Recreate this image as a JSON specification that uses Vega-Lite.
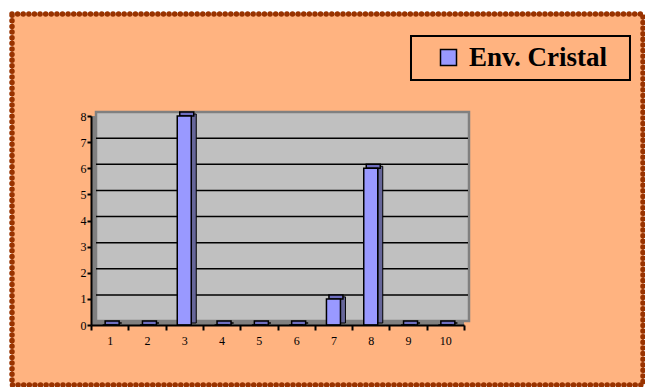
{
  "$schema": "https://vega.github.io/schema/vega-lite/v6.json",
  "width": 373,
  "height": 209,
  "autosize": {"type": "none"},
  "padding": {"left": 91, "top": 116, "right": 181, "bottom": 62},
  "background": "white",
  "config": {"view": {"stroke": null}},
  "layer": [
    {
      "encoding": {
        "x": {"type": "quantitative", "scale": {"domain": [0.5, 10.5], "nice": false, "zero": false}, "axis": null},
        "y": {"type": "quantitative", "scale": {"domain": [0, 8], "nice": false, "zero": false}, "axis": null}
      },
      "layer": [
        {
          "data": {"values": [{"x1": -1.618, "x2": 15.299, "y1": -2.297, "y2": 11.904}]},
          "mark": {"type": "rect", "fill": "#FFB380", "stroke": "#993300", "strokeWidth": 5.5, "strokeDash": [0.01, 5.6], "strokeCap": "round"},
          "encoding": {"x": {"field": "x1"}, "x2": {"field": "x2"}, "y": {"field": "y1"}, "y2": {"field": "y2"}}
        },
        {
          "data": {"values": [{"x1": 0.5, "x2": 10.5, "y1": 0, "y2": 8}]},
          "mark": {"type": "rect", "fill": "#808080"},
          "encoding": {"x": {"field": "x1"}, "x2": {"field": "x2"}, "y": {"field": "y1"}, "y2": {"field": "y2"}}
        },
        {
          "data": {"values": [{"x1": 0.5, "x2": 10.5, "y1": 0, "y2": 8}]},
          "mark": {"type": "rect", "fill": "#C0C0C0", "stroke": "#808080", "strokeWidth": 2.5, "xOffset": 5, "x2Offset": 5, "yOffset": -4, "y2Offset": -4},
          "encoding": {"x": {"field": "x1"}, "x2": {"field": "x2"}, "y": {"field": "y1"}, "y2": {"field": "y2"}}
        },
        {
          "data": {"values": [{"g": 1}, {"g": 2}, {"g": 3}, {"g": 4}, {"g": 5}, {"g": 6}, {"g": 7}]},
          "mark": {"type": "rule", "stroke": "black", "strokeWidth": 1.5, "xOffset": 5, "x2Offset": 4, "yOffset": -4, "y2Offset": -4},
          "encoding": {"x": {"datum": 0.5}, "x2": {"datum": 10.5}, "y": {"field": "g"}}
        },
        {
          "data": {"values": [{"x1": 9.079, "x2": 14.95, "y1": 9.378, "y2": 11.062}]},
          "mark": {"type": "rect", "fill": null, "stroke": "black", "strokeWidth": 2},
          "encoding": {"x": {"field": "x1"}, "x2": {"field": "x2"}, "y": {"field": "y1"}, "y2": {"field": "y2"}}
        }
      ]
    },
    {
      "data": {"values": [
        {"c": "1", "v": 0, "serie": "Env. Cristal"},
        {"c": "2", "v": 0, "serie": "Env. Cristal"},
        {"c": "3", "v": 8, "serie": "Env. Cristal"},
        {"c": "4", "v": 0, "serie": "Env. Cristal"},
        {"c": "5", "v": 0, "serie": "Env. Cristal"},
        {"c": "6", "v": 0, "serie": "Env. Cristal"},
        {"c": "7", "v": 1, "serie": "Env. Cristal"},
        {"c": "8", "v": 6, "serie": "Env. Cristal"},
        {"c": "9", "v": 0, "serie": "Env. Cristal"},
        {"c": "10", "v": 0, "serie": "Env. Cristal"}
      ]},
      "encoding": {
        "x": {
          "field": "c", "type": "ordinal", "sort": null,
          "scale": {"paddingInner": 0, "paddingOuter": 0},
          "axis": {
            "title": null, "labelAngle": 0, "tickBand": "extent", "tickSize": 5, "tickWidth": 2,
            "tickColor": "black", "domainColor": "black", "domainWidth": 2, "labelPadding": 5,
            "labelFont": "Liberation Serif", "labelFontSize": 12, "labelColor": "black", "zindex": 1, "grid": false
          }
        },
        "y": {
          "field": "v", "type": "quantitative",
          "scale": {"domain": [0, 8], "nice": false},
          "axis": {
            "title": null, "values": [0, 1, 2, 3, 4, 5, 6, 7, 8], "tickSize": 4, "tickWidth": 2,
            "tickColor": "black", "domainColor": "black", "domainWidth": 2, "labelPadding": 1,
            "labelFont": "Liberation Serif", "labelFontSize": 12, "labelColor": "black", "zindex": 1, "grid": false
          }
        }
      },
      "layer": [
        {
          "mark": {"type": "bar", "width": 5, "xOffset": 9.5, "yOffset": -2, "y2Offset": -2, "fill": "#666699", "stroke": "black", "strokeWidth": 1},
          "encoding": {}
        },
        {
          "mark": {"type": "tick", "size": 14, "thickness": 4, "xOffset": 2.5, "yOffset": -2, "fill": "#6F6FC0", "stroke": "black", "strokeWidth": 1.5, "opacity": 1},
          "encoding": {}
        },
        {
          "mark": {"type": "bar", "width": 14, "stroke": "black", "strokeWidth": 1.5},
          "encoding": {
            "color": {
              "field": "serie", "type": "nominal",
              "scale": {"domain": ["Env. Cristal"], "range": ["#9999FF"]},
              "legend": {
                "title": null, "orient": "none", "legendX": 344, "legendY": -72, "padding": 0,
                "symbolType": "square", "symbolSize": 256, "symbolStrokeColor": "black", "symbolStrokeWidth": 1.5,
                "symbolOpacity": 1,
                "labelFont": "Liberation Serif", "labelFontSize": 27, "labelFontWeight": "bold",
                "labelColor": "black", "labelOffset": 7, "labelLimit": 400
              }
            }
          }
        }
      ]
    }
  ],
  "resolve": {"scale": {"x": "independent", "y": "independent"}, "axis": {"x": "independent", "y": "independent"}}
}
